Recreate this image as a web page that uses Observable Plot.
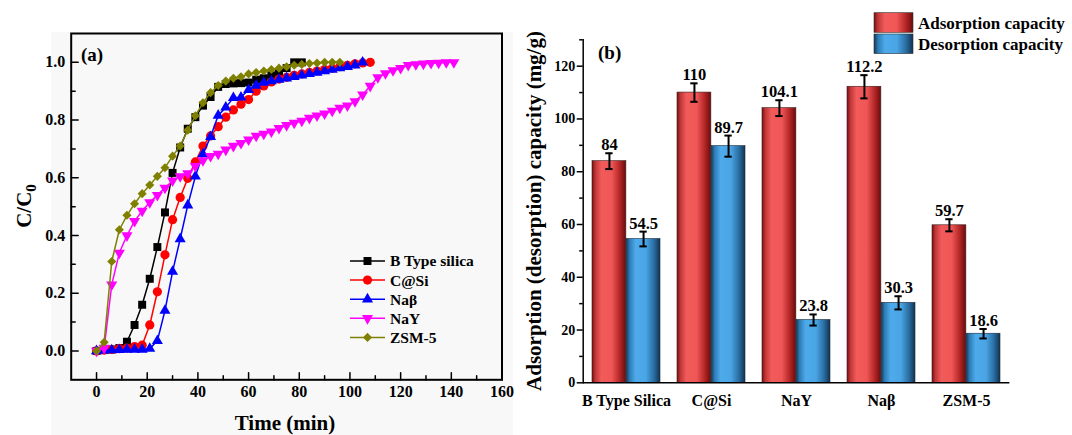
<!DOCTYPE html>
<html><head><meta charset="utf-8">
<script src="https://cdn.jsdelivr.net/npm/d3@7"></script>
<script src="https://cdn.jsdelivr.net/npm/@observablehq/plot@0.6"></script>
<style>
body{margin:0;background:#fff;}
#wrap{position:relative;width:1072px;height:435px;overflow:hidden;font-family:"Liberation Serif","Times New Roman",serif;}
#bgA{position:absolute;left:51px;top:32px;width:462px;height:403px;background:#f8f8f8;}
#pa{position:absolute;left:0;top:0;}
#pb{position:absolute;left:520px;top:0;}
</style></head><body>
<div id="wrap"><div id="bgA"></div><div id="pa"></div><div id="pb"></div></div>
<script>
const FONT = '"Liberation Serif", "Times New Roman", serif';

// ---------- Panel (a) data ----------
const seriesNames = ["B Type silica", "C@Si", "Naβ", "NaY", "ZSM-5"];
const seriesColors = ["#000000", "#ff0000", "#0000ff", "#ff00ff", "#808000"];
const seriesSymbols = ["square", "circle", "triangle", "triangle", "diamond2"];
const seriesRotate = [0, 0, 0, 180, 0];

const bTypeTime = [0,3,6,9,12,15,18,21,24,27,30,33,36,39,42,45,48,51,54,57,60,63,66,69,72,75,78,81];
const bTypeC = [0,0.003,0.005,0.01,0.032,0.09,0.16,0.25,0.36,0.48,0.617,0.705,0.77,0.81,0.85,0.88,0.915,0.925,0.927,0.928,0.93,0.94,0.945,0.955,0.965,0.98,1.0,1.0];

const csiTime = [0,3,6,9,12,15,18,21,24,27,30,33,36,39,42,45,48,51,54,57,60,63,66,69,72,75,78,81,84,87,90,93,96,99,102,105,108];
const csiC = [0,0.003,0.005,0.008,0.01,0.015,0.02,0.09,0.205,0.333,0.455,0.532,0.598,0.655,0.71,0.745,0.777,0.81,0.835,0.855,0.871,0.9,0.918,0.932,0.942,0.948,0.955,0.96,0.965,0.97,0.975,0.98,0.985,0.99,0.995,0.998,1.0];

const nabTime = [0,3,6,9,12,15,18,21,24,27,30,33,36,39,42,45,48,51,54,57,60,63,66,69,72,75,78,81,84,87,90,93,96,99,102,105];
const nabC = [0,0.002,0.003,0.004,0.005,0.005,0.005,0.008,0.035,0.14,0.275,0.388,0.505,0.605,0.682,0.742,0.816,0.844,0.877,0.879,0.905,0.92,0.93,0.935,0.94,0.945,0.95,0.955,0.96,0.965,0.97,0.975,0.98,0.985,0.99,1.0];

const nayTime = [0,3,6,9,12,15,18,21,24,27,30,33,36,39,42,45,48,51,54,57,60,63,66,69,72,75,78,81,84,87,90,93,96,99,102,105,108,111,114,117,120,123,126,129,132,135,138,141];
const nayC = [0,0.01,0.23,0.34,0.40,0.45,0.485,0.515,0.54,0.565,0.59,0.605,0.615,0.64,0.66,0.675,0.683,0.697,0.71,0.72,0.732,0.745,0.752,0.76,0.772,0.782,0.79,0.797,0.807,0.815,0.822,0.832,0.842,0.85,0.865,0.888,0.918,0.948,0.962,0.972,0.98,0.99,0.993,0.995,0.997,0.998,1.0,1.0];

const zsmTime = [0,3,6,9,12,15,18,21,24,27,30,33,36,39,42,45,48,51,54,57,60,63,66,69,72,75,78,81,84,87,90,93,96];
const zsmC = [0,0.03,0.31,0.42,0.47,0.51,0.545,0.575,0.605,0.635,0.675,0.71,0.765,0.815,0.86,0.895,0.92,0.935,0.945,0.95,0.96,0.965,0.97,0.975,0.98,0.985,0.99,0.993,0.996,0.998,1.0,1.0,1.0];

const xTicksA = [0,20,40,60,80,100,120,140,160];
const xMinorA = [10,30,50,70,90,110,130,150];
const yTicksA = [0,0.2,0.4,0.6,0.8,1.0];
const yMinorA = [0.1,0.3,0.5,0.7,0.9];

// ---------- Panel (b) data ----------
const categories = ["B Type Silica", "C@Si", "NaY", "Naβ", "ZSM-5"];
const adsorption = [84, 110, 104.1, 112.2, 59.7];
const adsorptionErr = [3, 3.5, 3, 4.4, 2.3];
const desorption = [54.5, 89.7, 23.8, 30.3, 18.6];
const desorptionErr = [2.8, 4, 2.1, 2.5, 1.8];
const legendLabelsB = ["Adsorption capacity", "Desorption capacity"];
const yTicksB = [0,20,40,60,80,100,120];
const yMinorB = [10,30,50,70,90,110,130];

// ---------- Panel (a) ----------
const seriesData = [
  [bTypeTime, bTypeC], [csiTime, csiC], [nabTime, nabC], [nayTime, nayC], [zsmTime, zsmC]
].map(([t, c], i) => t.map((tt, j) => ({t: tt, c: c[j], s: seriesNames[i]})));

const symR = s => s === "square" ? 4.5 : (s === "circle" ? 4.6 : 4.1);
const marksA = [];
seriesData.forEach((rows, i) => {
  marksA.push(Plot.line(rows, {x: "t", y: "c", stroke: seriesColors[i], strokeWidth: 1.5}));
  marksA.push(Plot.dot(rows, {x: "t", y: "c", fill: seriesColors[i], stroke: "none",
    symbol: seriesSymbols[i], rotate: seriesRotate[i], r: symR(seriesSymbols[i])}));
});
const txtA = {fontSize: 16, fontWeight: "bold", fontFamily: FONT, label: null};
// simple line shape for inward tick marks
const tickShape = {draw(context, l) { context.moveTo(0, 0); context.lineTo(0, -l); }};
const inTick = (ticks, dim, len) => dim === "x"
  ? Plot.vector(ticks, {x: d => d, frameAnchor: "bottom", length: len, rotate: 0, anchor: "start", shape: tickShape, stroke: "black", strokeWidth: 1.5})
  : Plot.vector(ticks, {y: d => d, frameAnchor: "left", length: len, rotate: 90, anchor: "start", shape: tickShape, stroke: "black", strokeWidth: 1.5});
marksA.push(
  Plot.frame({stroke: "black", strokeWidth: 2}),
  inTick(xTicksA, "x", 7), inTick(xMinorA, "x", 4),
  inTick(yTicksA, "y", 7), inTick(yMinorA, "y", 4),
  Plot.axisX(xTicksA, {...txtA, tickSize: 0, tickPadding: 6}),
  Plot.axisY(yTicksA, {...txtA, tickSize: 0, tickPadding: 6, tickFormat: d => d.toFixed(1)})
);

const plotA = Plot.plot({
  width: 520, height: 435,
  marginLeft: 70.7, marginRight: 18.5, marginTop: 33, marginBottom: 55.7,
  x: {domain: [-10, 160]},
  y: {domain: [-0.1, 1.1]},
  style: {fontFamily: FONT, background: "transparent", color: "black", overflow: "visible"},
  marks: marksA
});
document.getElementById("pa").appendChild(plotA);

{
  const svg = d3.select(plotA);
  const t = (x, y, s, size) => svg.append("text").attr("x", x).attr("y", y).attr("dy", "0.35em")
    .attr("text-anchor", "start")
    .attr("font-family", FONT).attr("font-weight", "bold").attr("font-size", size).attr("fill", "black").text(s);
  t(81, 54, "(a)", 19);
  t(285, 423, "Time (min)", 21).attr("text-anchor", "middle");
  const yl = svg.append("text").attr("transform", "translate(24,206) rotate(-90)")
    .attr("text-anchor", "middle").attr("dy", "0.35em")
    .attr("font-family", FONT).attr("font-weight", "bold").attr("font-size", 21).attr("fill", "black");
  yl.append("tspan").text("C/C");
  yl.append("tspan").attr("font-size", 15).attr("dy", 5).text("0");
  // legend
  const symMap = {square: d3.symbolSquare, circle: d3.symbolCircle, triangle: d3.symbolTriangle, diamond2: d3.symbolDiamond2};
  seriesNames.forEach((name, i) => {
    const y = 261 + i * 19.1;
    const g = svg.append("g");
    g.append("line").attr("x1", 350).attr("x2", 385).attr("y1", y).attr("y2", y)
      .attr("stroke", seriesColors[i]).attr("stroke-width", 1.5);
    const rr = symR(seriesSymbols[i]);
    g.append("path").attr("d", d3.symbol(symMap[seriesSymbols[i]], Math.PI * rr * rr)())
      .attr("transform", `translate(367.5,${y}) rotate(${seriesRotate[i]})`).attr("fill", seriesColors[i]);
    t(390, y, name, 15.5);
  });
}

// ---------- Panel (b) ----------
const rowsB = categories.map((c, i) => ({cat: c, ads: adsorption[i], adsErr: adsorptionErr[i], des: desorption[i], desErr: desorptionErr[i]}));
const bW = 552, bH = 435, bML = 62.7, bMR = 62.6, bMT = 39.3, bMB = 52.7;
const padIn = 0.2, padOut = 0.1;
const step = (bW - bML - bMR) / (categories.length - padIn + 2 * padOut);
const bw = step * (1 - padIn);
const half = bw / 2, q = bw / 4, cap = 3.8;
const errStyle = {stroke: "black", strokeWidth: 2};
const labStyle = {fontSize: 16.5, fontWeight: "bold", fontFamily: FONT, fill: "black", lineAnchor: "bottom", dy: -3};

const plotB = Plot.plot({
  width: bW, height: bH,
  marginLeft: bML, marginRight: bMR, marginTop: bMT, marginBottom: bMB,
  x: {domain: categories, paddingInner: padIn, paddingOuter: padOut},
  y: {domain: [0, 130]},
  style: {fontFamily: FONT, background: "transparent", color: "black", overflow: "visible"},
  marks: [
    Plot.barY(rowsB, {x: "cat", y: "ads", fill: "url(#gradRed)", stroke: "#3a2020", strokeWidth: 0.6, insetRight: half}),
    Plot.barY(rowsB, {x: "cat", y: "des", fill: "url(#gradBlue)", stroke: "#1c2c3c", strokeWidth: 0.6, insetLeft: half}),
    Plot.ruleX(rowsB, {x: "cat", y1: d => d.ads - d.adsErr, y2: d => d.ads + d.adsErr, dx: q - half, ...errStyle}),
    Plot.ruleX(rowsB, {x: "cat", y1: d => d.des - d.desErr, y2: d => d.des + d.desErr, dx: half - q, ...errStyle}),
    Plot.tickY(rowsB, {x: "cat", y: d => d.ads + d.adsErr, insetLeft: q - cap, insetRight: bw - q - cap, ...errStyle}),
    Plot.tickY(rowsB, {x: "cat", y: d => d.ads - d.adsErr, insetLeft: q - cap, insetRight: bw - q - cap, ...errStyle}),
    Plot.tickY(rowsB, {x: "cat", y: d => d.des + d.desErr, insetLeft: 3 * q - cap, insetRight: q - cap, ...errStyle}),
    Plot.tickY(rowsB, {x: "cat", y: d => d.des - d.desErr, insetLeft: 3 * q - cap, insetRight: q - cap, ...errStyle}),
    Plot.text(rowsB, {x: "cat", y: d => d.ads + d.adsErr, text: d => String(d.ads), ...labStyle, dx: q - half}),
    Plot.text(rowsB, {x: "cat", y: d => d.des + d.desErr, text: d => String(d.des), ...labStyle, dx: half - q}),
    Plot.ruleY([0], {stroke: "black", strokeWidth: 1.5}),
    Plot.frame({anchor: "left", stroke: "black", strokeWidth: 1.5}),
    Plot.axisY(yTicksB, {tickSize: 6, tickPadding: 2, fontSize: 14, fontWeight: "bold", fontFamily: FONT, label: null, strokeWidth: 1.5}),
    Plot.axisY(yMinorB, {tickSize: 3.5, tickFormat: () => "", label: null, strokeWidth: 1.5}),
    Plot.axisX({tickSize: 0, tickPadding: 12, fontSize: 16, fontWeight: "bold", fontFamily: FONT, label: null})
  ]
});
document.getElementById("pb").appendChild(plotB);

{
  const svg = d3.select(plotB);
  const defs = svg.insert("defs", ":first-child");
  const grad = (id, stops) => {
    const g = defs.append("linearGradient").attr("id", id).attr("x1", 0).attr("x2", 1).attr("y1", 0).attr("y2", 0);
    stops.forEach(([o, c]) => g.append("stop").attr("offset", o).attr("stop-color", c));
  };
  grad("gradRed", [[0, "#74100f"], [0.1, "#c03636"], [0.28, "#f25b5b"], [0.58, "#f05656"], [0.82, "#b32626"], [1, "#6a0b0b"]]);
  grad("gradBlue", [[0, "#123656"], [0.1, "#2c7bb4"], [0.28, "#4eaaea"], [0.58, "#4aa5e5"], [0.82, "#2a6ea2"], [1, "#113251"]]);
  const t = (x, y, s, size) => svg.append("text").attr("x", x).attr("y", y).attr("dy", "0.35em")
    .attr("text-anchor", "start")
    .attr("font-family", FONT).attr("font-weight", "bold").attr("font-size", size).attr("fill", "black").text(s);
  t(78, 52, "(b)", 19);
  svg.append("text").attr("transform", "translate(14,211) rotate(-90)").attr("text-anchor", "middle").attr("dy", "0.35em")
    .attr("font-family", FONT).attr("font-weight", "bold").attr("font-size", 21).attr("fill", "black")
    .text("Adsorption (desorption) capacity (mg/g)");
  ["gradRed", "gradBlue"].forEach((g, i) => {
    const y0 = 12.7 + i * 21.3;
    svg.append("rect").attr("x", 354).attr("y", y0).attr("width", 39).attr("height", 19.6)
      .attr("fill", `url(#${g})`).attr("stroke", "#333").attr("stroke-width", 0.6);
    t(398, y0 + 10, legendLabelsB[i], 17);
  });
}
</script>
</body></html>
